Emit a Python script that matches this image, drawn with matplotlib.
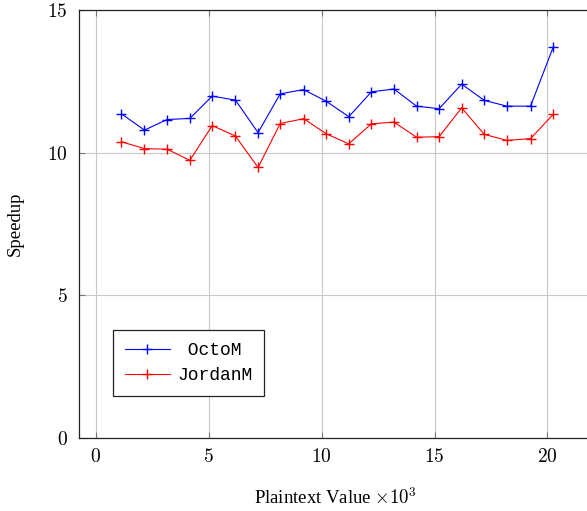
import matplotlib.pyplot as plt

plt.rcParams['font.family'] = 'cmr10'
plt.rcParams['mathtext.fontset'] = 'cm'
plt.rcParams['axes.formatter.use_mathtext'] = True

# Data
plaintext_k = [1.13, 2.15, 3.15, 4.16, 5.15, 6.18, 7.18, 8.16, 9.2, 10.2,
               11.2, 12.2, 13.2, 14.2, 15.2, 16.2, 17.2, 18.2, 19.25, 20.25]
octom = [11.36, 10.79, 11.16, 11.2, 11.98, 11.84, 10.7, 12.06, 12.21, 11.8,
         11.26, 12.13, 12.23, 11.63, 11.54, 12.4, 11.83, 11.63, 11.63, 13.69]
jordanm = [10.38, 10.14, 10.12, 9.73, 10.95, 10.58, 9.48, 11.02, 11.19, 10.66,
           10.31, 11.01, 11.07, 10.54, 10.56, 11.57, 10.64, 10.43, 10.49, 11.34]
xticks = [0, 5, 10, 15, 20]
yticks = [0, 5, 10, 15]

fig = plt.figure(figsize=(5.87, 5.11), dpi=100)
ax = fig.add_axes([0.1346, 0.1429, 0.875, 0.8376])

ax.plot(plaintext_k, octom, color='blue', marker='+', markersize=7, linewidth=0.8, label=' OctoM')
ax.plot(plaintext_k, jordanm, color='red', marker='+', markersize=7, linewidth=0.8, label='JordanM')

ax.set_xlim(-0.75, 22)
ax.set_ylim(0, 15)
ax.set_xticks(xticks)
ax.set_yticks(yticks)
ax.grid(True, color='#c8c8c8', linewidth=0.8)
ax.set_axisbelow(True)
ax.tick_params(direction='in', length=4, width=0.8, color='#777777', top=True, right=True,
               labelsize=14)
ax.tick_params(axis='x', pad=7)
ax.tick_params(axis='y', pad=8)
for s in ax.spines.values():
    s.set_linewidth(0.9)
    s.set_color('#222222')

ax.set_xlabel(r'Plaintext Value $\times 10^3$', fontsize=13.5, family='Liberation Serif', labelpad=15)
ax.set_ylabel('Speedup', fontsize=13.5, family='Liberation Serif', labelpad=17)

leg = ax.legend(loc='lower left', bbox_to_anchor=(0.066, 0.098), borderaxespad=0,
                numpoints=1, fancybox=False, framealpha=1, edgecolor='#222222',
                prop={'family': 'Liberation Mono', 'size': 13}, handlelength=2.5,
                handletextpad=0.4, borderpad=0.65, labelspacing=0.45)
leg.get_frame().set_linewidth(0.9)

fig.savefig('out.png', dpi=100)
